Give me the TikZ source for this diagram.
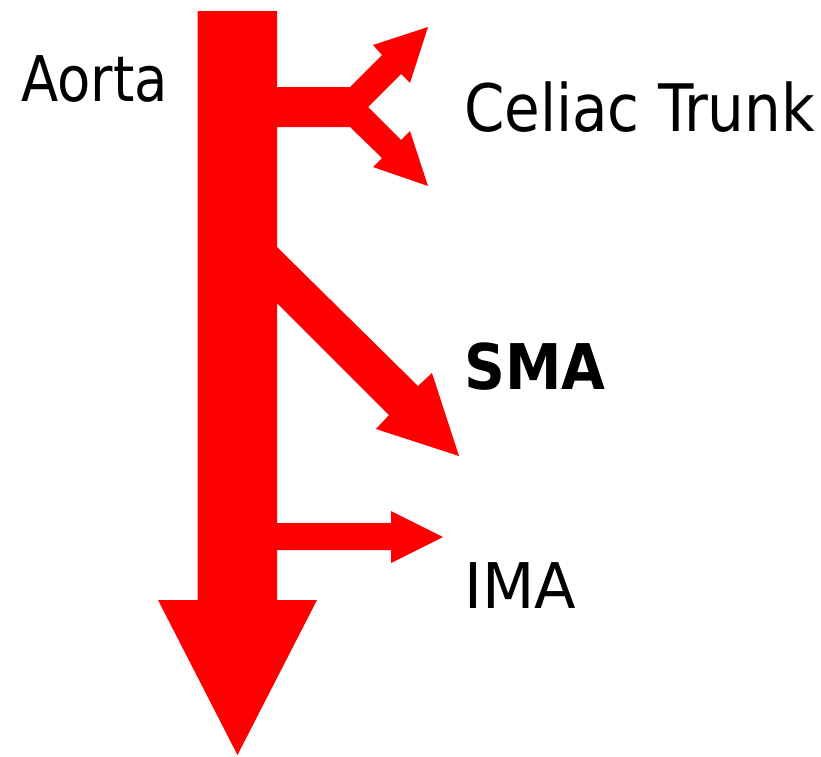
\documentclass[tikz,border=0pt]{standalone}
\usepackage{fontspec}
\setmainfont{DejaVu Sans Condensed}
\newfontfamily\boldlabel{DejaVu Sans Condensed Bold}
\newfontfamily\narrowlabel[FakeStretch=0.96]{DejaVu Sans Condensed}
\newfontfamily\trunklabel[FakeStretch=0.983]{DejaVu Sans Condensed}
\newfontfamily\widelabel[FakeStretch=1.07]{DejaVu Sans Condensed}
\begin{document}
\begin{tikzpicture}[x=1pt,y=-1pt,
  vessel/.style={fill={rgb,255:red,255;green,0;blue,0}, draw=none},
  label/.style={anchor=base west, inner sep=0pt, text=black}]
\useasboundingbox (0,0) rectangle (821,756);
\fill[white] (0,0) rectangle (821,756);
% aorta with its three branches, drawn as one outline
\path[vessel]
  (197.5,11) -- (277,11) -- (277,87)
  % celiac trunk, forking into two arrows
  -- (350,87) -- (382,55) -- (373,45) -- (428,27) -- (410,83) -- (401,74)
  -- (368,107)
  -- (401,140) -- (410,131) -- (428,186) -- (373,167) -- (382,158)
  -- (350,127) -- (277,127)
  % superior mesenteric artery
  -- (277,247) -- (418,386) -- (432,373) -- (459,456) -- (376,429) -- (389,415)
  -- (277,303)
  % inferior mesenteric artery
  -- (277,523) -- (391,523) -- (391,511) -- (443,537) -- (391,563) -- (391,550)
  -- (277,550)
  % arrow head of the aorta
  -- (277,600) -- (317,600) -- (237.5,755) -- (158,600) -- (197.5,600) -- cycle;
% labels
\node[label, font=\narrowlabel\fontsize{63}{70}\selectfont] (aorta) at (21,101) {Aorta};
\node[label, font=\trunklabel\fontsize{65.5}{72}\selectfont] (celiac) at (464,131) {Celiac Trunk};
\node[label, font=\boldlabel\fontsize{63}{70}\selectfont] (sma) at (464,389) {SMA};
\node[label, font=\widelabel\fontsize{63}{70}\selectfont] (ima) at (464,608) {IMA};
\end{tikzpicture}
\end{document}
